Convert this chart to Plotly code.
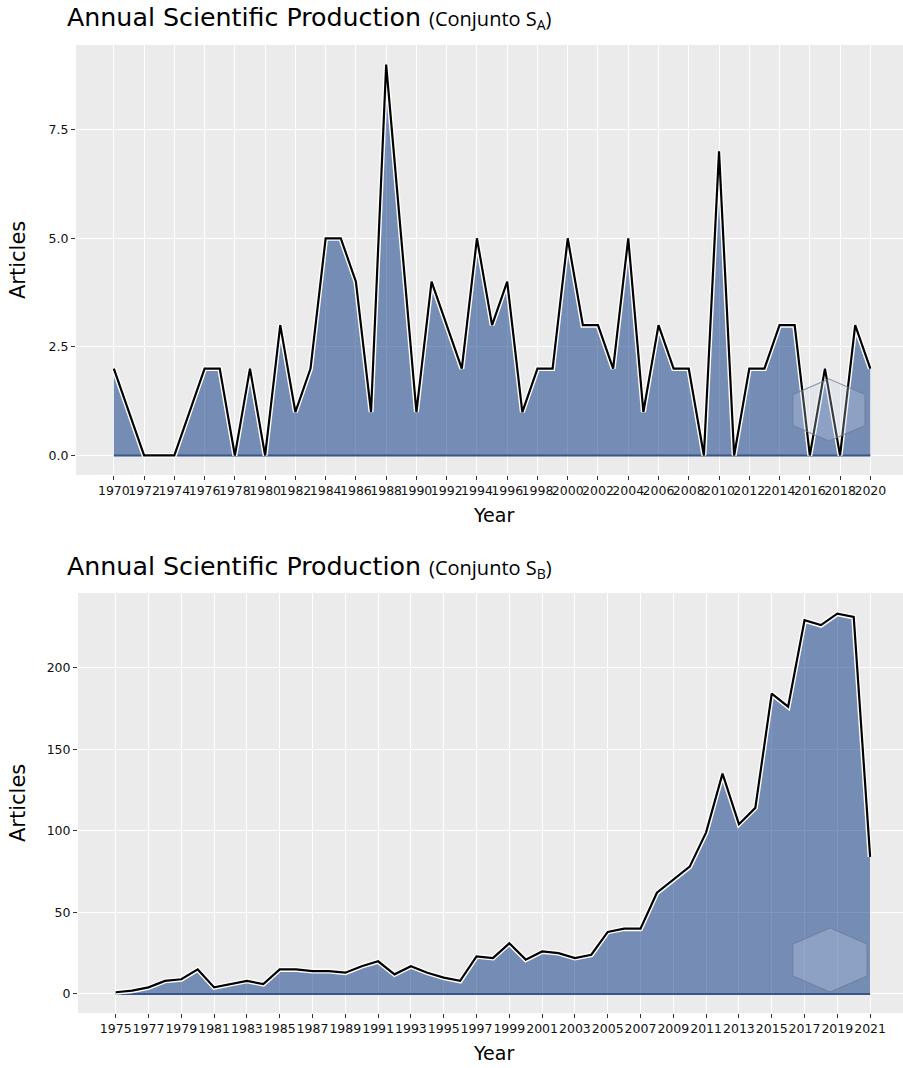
import plotly.graph_objects as go

W, H = 903, 1068

# ---------------- data ----------------
years_a = list(range(1970, 2021))
articles_a = [2, 1, 0, 0, 0, 1, 2, 2, 0, 2,
              0, 3, 1, 2, 5, 5, 4, 1, 9, 5,
              1, 4, 3, 2, 5, 3, 4, 1, 2, 2,
              5, 3, 3, 2, 5, 1, 3, 2, 2, 0,
              7, 0, 2, 2, 3, 3, 0, 2, 0, 3,
              2]

years_b = list(range(1975, 2022))
articles_b = [1, 2, 4, 8, 9, 15, 4, 6, 8, 6,
              15, 15, 14, 14, 13, 17, 20, 12, 17, 13,
              10, 8, 23, 22, 31, 21, 26, 25, 22, 24,
              38, 40, 40, 62, 70, 78, 99, 135, 104, 114,
              184, 176, 229, 226, 233, 231, 84]

xticks_a = list(range(1970, 2021, 2))
xticks_b = list(range(1975, 2022, 2))
yticks_a = [0, 2.5, 5, 7.5]
yticklabels_a = ["0.0", "2.5", "5.0", "7.5"]
yticks_b = [0, 50, 100, 150, 200]

title_main = "Annual Scientific Production"
title_sub_a = "(Conjunto S<sub>A</sub>)"
title_sub_b = "(Conjunto S<sub>B</sub>)"

# ---------------- style ----------------
FILL = "rgba(0,47,128,0.5)"
BASE = "#3B5586"
FONT = "DejaVu Sans"
TXT = "#111111"


def px(p):
    return p / W


def py(p):
    return 1 - p / H


fig = go.Figure()


def add_area(xs, ys, xa, ya):
    fig.add_trace(go.Scatter(x=xs, y=ys, mode="lines", fill="tozeroy",
                             fillcolor=FILL, line=dict(width=0, color="rgba(0,0,0,0)"),
                             xaxis=xa, yaxis=ya, hoverinfo="skip", showlegend=False))
    fig.add_trace(go.Scatter(x=xs, y=[0] * len(xs), mode="lines",
                             line=dict(color=BASE, width=2),
                             xaxis=xa, yaxis=ya, hoverinfo="skip", showlegend=False))
    fig.add_trace(go.Scatter(x=xs, y=ys, mode="lines",
                             line=dict(color="white", width=5),
                             xaxis=xa, yaxis=ya, hoverinfo="skip", showlegend=False))
    fig.add_trace(go.Scatter(x=xs, y=ys, mode="lines",
                             line=dict(color="black", width=2.2),
                             xaxis=xa, yaxis=ya, showlegend=False))


add_area(years_a, articles_a, "x", "y")
add_area(years_b, articles_b, "x2", "y2")

axis_common = dict(
    showgrid=True, gridcolor="white", gridwidth=1.4, zeroline=False,
    showline=False, ticks="outside", ticklen=4, tickwidth=1, tickcolor="#333333",
    tickfont=dict(family=FONT, size=12.5, color=TXT), tickangle=0,
)

# top panel: x pixels 76..903, y pixels 45..475
pxyr_a = 15.13
fig.update_layout(
    xaxis=dict(axis_common, domain=[px(76), 1], anchor="y",
               range=[1967.5, 1967.5 + (903 - 76) / pxyr_a],
               tickvals=xticks_a, ticktext=[str(v) for v in xticks_a]),
    yaxis=dict(axis_common, domain=[py(475), py(45)], anchor="x",
               range=[-0.45, 9.45], tickvals=yticks_a, ticktext=yticklabels_a),
)

# bottom panel: x pixels 78..903, y pixels 593..1013
pxyr_b = 16.4
fig.update_layout(
    xaxis2=dict(axis_common, domain=[px(78), 1], anchor="y2",
                range=[1972.7, 1972.7 + (903 - 78) / pxyr_b],
                tickvals=xticks_b, ticktext=[str(v) for v in xticks_b]),
    yaxis2=dict(axis_common, domain=[py(1013), py(593)], anchor="x2",
                range=[-11.7, 245.7], tickvals=yticks_b,
                ticktext=[str(v) for v in yticks_b]),
)

annotations = []
sub_style = "font-family:'Open Sans';font-size:20px"
for ty, sub in [(18, title_sub_a), (567, title_sub_b)]:
    annotations.append(dict(
        x=px(65), y=py(ty), xref="paper", yref="paper", xanchor="left", yanchor="middle",
        showarrow=False,
        text=f"{title_main} <span style=\"{sub_style}\">{sub}</span>",
        font=dict(family=FONT, size=25.3, color="black")))

for cy in [260, 803]:
    annotations.append(dict(
        x=px(18), y=py(cy), xref="paper", yref="paper", xanchor="center", yanchor="middle",
        showarrow=False, textangle=-90, text="Articles",
        font=dict(family=FONT, size=21, color="black")))

for cy, cx in [(515, 494), (1053, 494)]:
    annotations.append(dict(
        x=px(cx), y=py(cy), xref="paper", yref="paper", xanchor="center", yanchor="middle",
        showarrow=False, text="Year",
        font=dict(family=FONT, size=19, color="black")))

# faint hexagon watermarks (decoration)
shapes = []
for (cx, cy, hw, hh) in [(829, 410, 36, 31), (830, 960, 37, 32)]:
    pts = [(cx, cy - hh), (cx + hw, cy - hh / 2), (cx + hw, cy + hh / 2),
           (cx, cy + hh), (cx - hw, cy + hh / 2), (cx - hw, cy - hh / 2)]
    path = "M " + " L ".join(f"{px(a):.5f},{py(b):.5f}" for a, b in pts) + " Z"
    shapes.append(dict(type="path", xref="paper", yref="paper", path=path,
                       fillcolor="rgba(200,215,235,0.28)",
                       line=dict(color="rgba(110,125,150,0.7)", width=1.2)))

fig.update_layout(
    width=W, height=H,
    margin=dict(l=0, r=0, t=0, b=0),
    paper_bgcolor="white", plot_bgcolor="#EBEBEB",
    showlegend=False,
    annotations=annotations,
    shapes=shapes,
)

fig.write_html("out.html",
               config={"displayModeBar": False},
               post_script="document.body.style.margin='0';"
                           "document.body.style.overflow='hidden';")
